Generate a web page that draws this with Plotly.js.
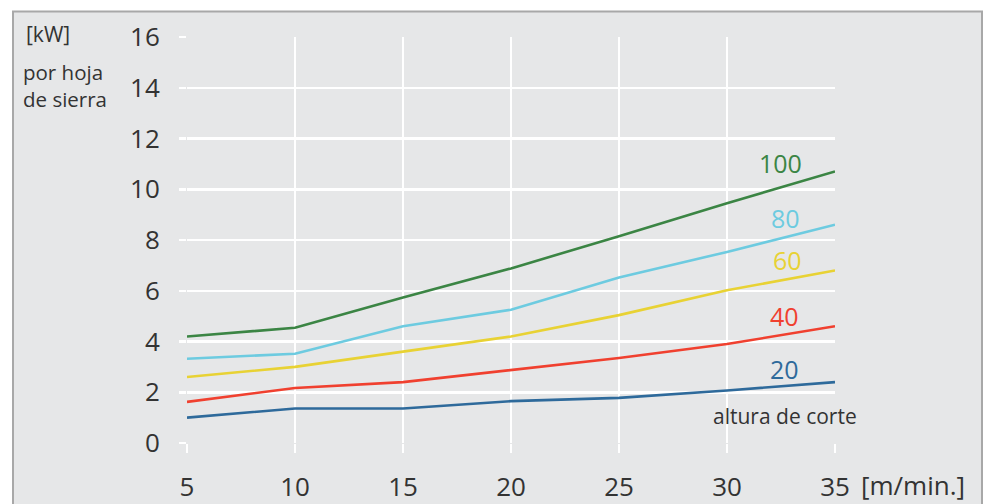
<!DOCTYPE html>
<html>
<head>
<meta charset="utf-8">
<script src="https://cdn.plot.ly/plotly-3.0.1.min.js"></script>
<style>html,body{margin:0;padding:0;background:#fff;}#chart{width:984px;height:504px;}</style>
</head>
<body>
<div id="chart"></div>
<script>
// Data
const speeds = [5, 10, 15, 20, 25, 30, 35];
const h20  = [1.0, 1.36, 1.36, 1.65, 1.78, 2.07, 2.4];
const h40  = [1.62, 2.17, 2.4, 2.88, 3.35, 3.9, 4.6];
const h60  = [2.6, 3.0, 3.6, 4.2, 5.04, 6.02, 6.8];
const h80  = [3.32, 3.52, 4.6, 5.25, 6.52, 7.53, 8.6];
const h100 = [4.2, 4.54, 5.73, 6.88, 8.15, 9.45, 10.7];
const seriesNames = ['20', '40', '60', '80', '100'];
const seriesData = [h20, h40, h60, h80, h100];
const seriesColors = ['#2e6a9b', '#f0402f', '#e8d234', '#6dcbe0', '#3b8544'];
const yTicks = [0, 2, 4, 6, 8, 10, 12, 14, 16];
const xTicks = [5, 10, 15, 20, 25, 30, 35];

// layout geometry helpers (pixels -> paper)
const L = 187, R = 835, T = 36.5, B = 443.5;
const W = 984, H = 504;
const px = x => (x - L) / (R - L);
const py = y => (B - y) / (B - T);

const FONT = 'Open Sans, Noto Sans, sans-serif';
const TXT = '#333333';

const traces = seriesData.map((d, i) => ({
  x: speeds, y: d, type: 'scatter', mode: 'lines', name: seriesNames[i],
  line: {color: seriesColors[i], width: 2.6}, hoverinfo: 'skip'
}));

const labelPos = [[784, 369], [784, 316], [787, 260], [785, 218], [780, 163]];
const annotations = seriesNames.map((n, i) => ({
  xref: 'paper', yref: 'paper', x: px(labelPos[i][0]), y: py(labelPos[i][1]),
  text: n, showarrow: false, xanchor: 'center', yanchor: 'middle',
  font: {family: FONT, size: 25, color: seriesColors[i]}
}));
annotations.push(
  {xref:'paper', yref:'paper', x: px(785), y: py(416), text:'altura de corte', showarrow:false,
   xanchor:'center', yanchor:'middle', font:{family:FONT, size:21, color:TXT}},
  {xref:'paper', yref:'paper', x: px(859), y: py(486), text:'[m/min.]', showarrow:false,
   xanchor:'left', yanchor:'middle', font:{family:FONT, size:26, color:TXT}},
  {xref:'paper', yref:'paper', x: px(24), y: py(33), text:'[kW]', showarrow:false,
   xanchor:'left', yanchor:'middle', font:{family:FONT, size:21, color:TXT}},
  {xref:'paper', yref:'paper', x: px(21), y: py(85), text:'por hoja<br>de sierra', showarrow:false,
   xanchor:'left', yanchor:'middle', align:'left', font:{family:FONT, size:20.5, color:TXT}}
);

const layout = {
  width: W, height: H,
  margin: {l: L, r: W - R, t: T, b: H - B, pad: 0},
  paper_bgcolor: '#ffffff',
  plot_bgcolor: '#e6e7e8',
  showlegend: false,
  font: {family: FONT, color: TXT},
  xaxis: {
    range: [5, 35], tickvals: xTicks, ticktext: xTicks.map(String),
    showgrid: true, gridcolor: '#ffffff', gridwidth: 2.5, zeroline: false,
    showline: false, ticks: 'outside', ticklen: 9, tickwidth: 2.5, tickcolor: '#ffffff',
    ticklabelstandoff: 12,
    tickfont: {family: FONT, size: 26, color: TXT}, fixedrange: true
  },
  yaxis: {
    range: [0, 16], tickvals: yTicks, ticktext: yTicks.map(String),
    showgrid: true, gridcolor: '#ffffff', gridwidth: 2.5, zeroline: false,
    showline: false, ticks: 'outside', ticklen: 7, tickwidth: 2.5, tickcolor: '#ffffff',
    ticklabelstandoff: 14,
    tickfont: {family: FONT, size: 26, color: TXT}, fixedrange: true
  },
  shapes: [{
    type: 'rect', xref: 'paper', yref: 'paper', layer: 'below',
    x0: px(13), x1: px(982), y0: py(520), y1: py(11),
    fillcolor: '#e6e7e8', line: {color: '#a8a8a8', width: 2}
  }],
  annotations: annotations
};

Plotly.newPlot('chart', traces, layout, {staticPlot: true, displayModeBar: false});
</script>
</body>
</html>
